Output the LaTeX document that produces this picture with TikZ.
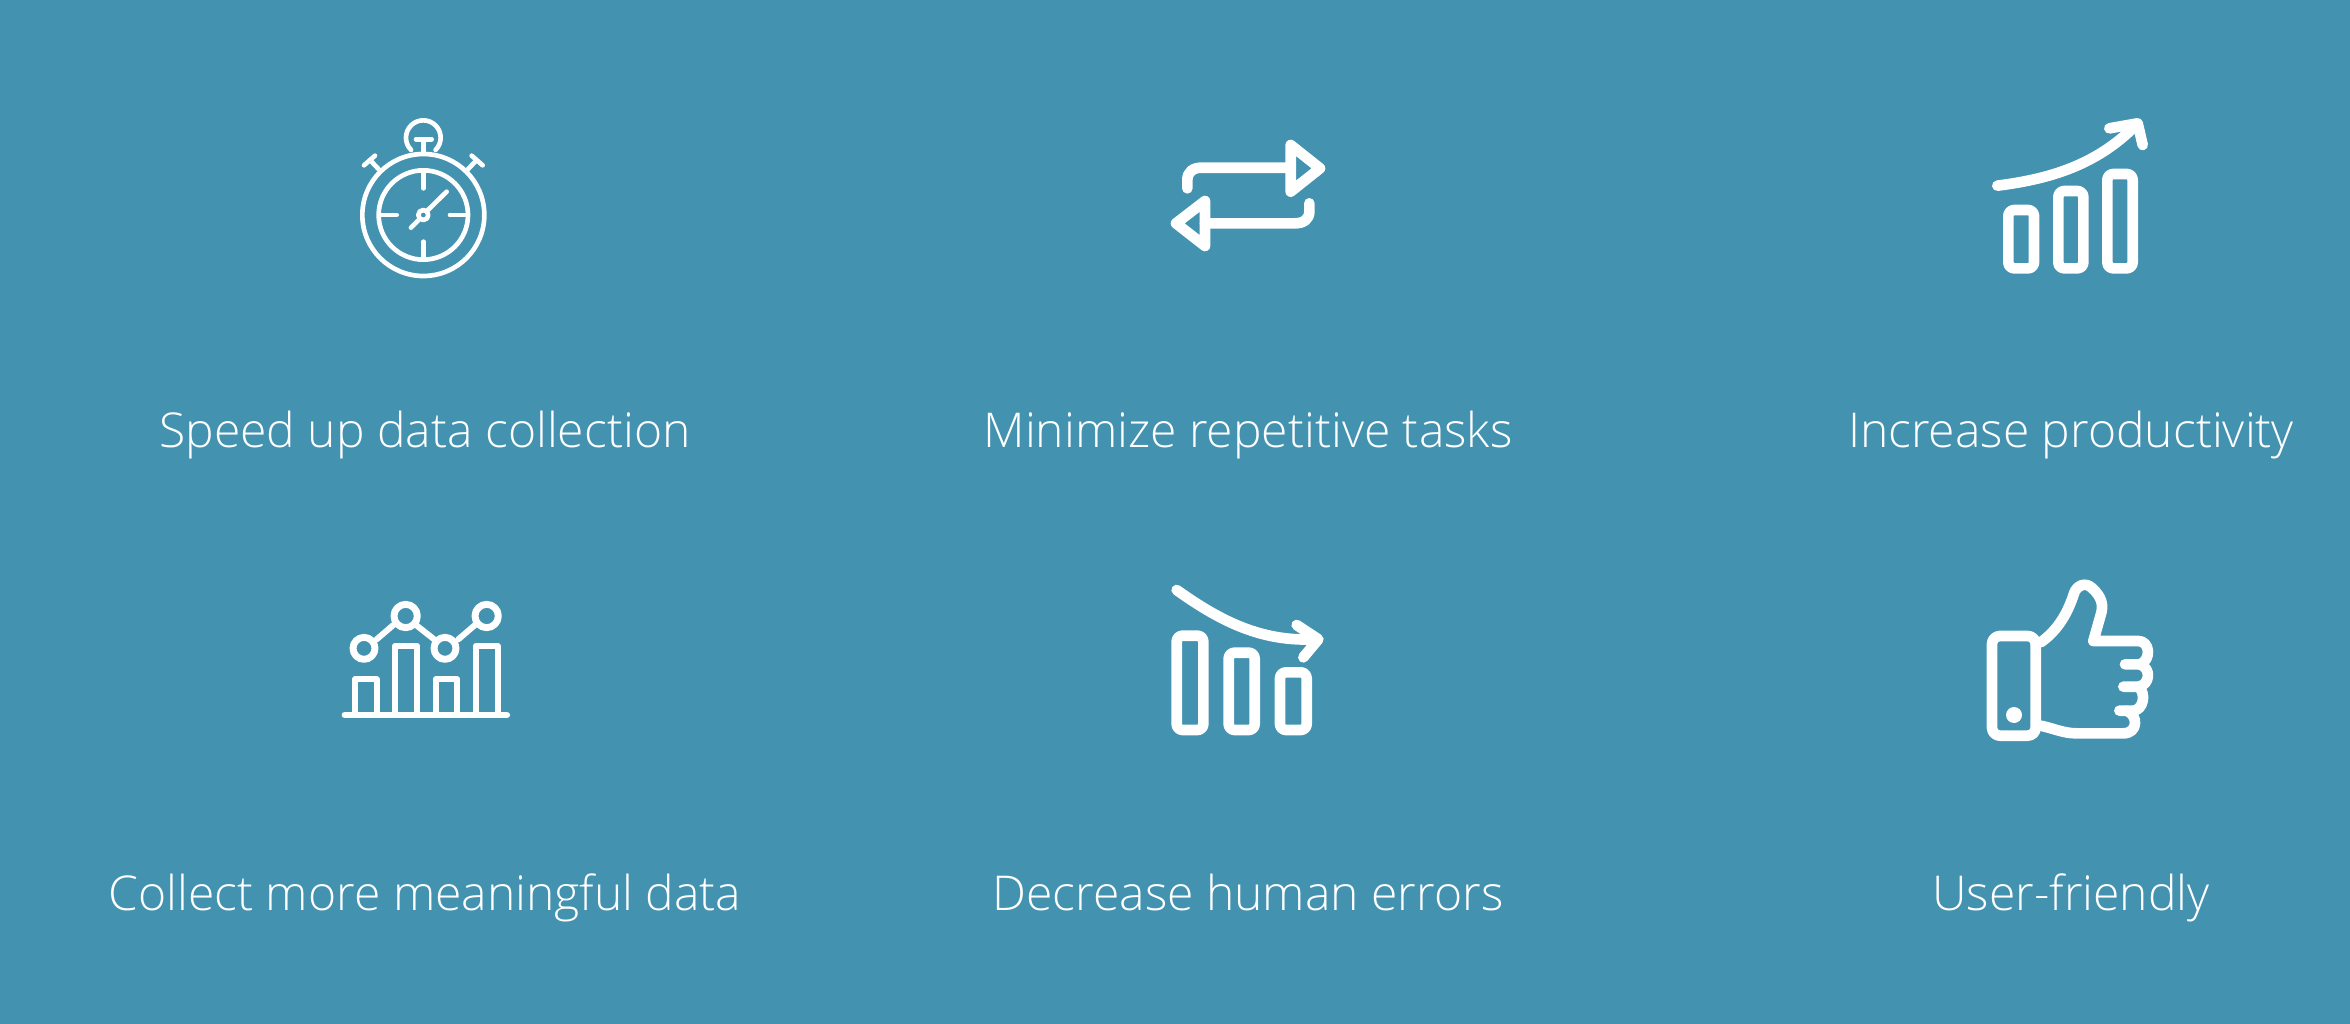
\documentclass[tikz,border=0pt]{standalone}
\usepackage{fontspec}
\setmainfont{Open Sans}[UprightFont={* Light}]
\definecolor{bgteal}{HTML}{4292B0}
\tikzset{
  px/.style={x=0.75pt,y=-0.75pt},
  icon/.style={draw=white,line cap=round,line join=round,fill=none},
  thin icon/.style={icon,line width=3.5pt},
  chart icon/.style={icon,line width=4.5pt},
  mid icon/.style={icon,line width=5.2pt},
  bold icon/.style={icon,line width=8pt},
  bar/.style={bold icon,rounded corners=4.5pt},
  caption/.style={anchor=base,text=white,font=\fontsize{36pt}{40pt}\selectfont,inner sep=0pt},
}
\begin{document}
\begin{tikzpicture}[px]
\fill[bgteal] (0,0) rectangle (2350,1024);
\useasboundingbox (0,0) rectangle (2350,1024);
\node[caption] (t1) at (425,447) {Speed up data collection};
\node[caption] (t2) at (1248,447) {Minimize repetitive tasks};
\node[caption] (t3) at (2071,447) {Increase productivity};
\node[caption] (t4) at (425,910) {Collect more meaningful data};
\node[caption] (t5) at (1248,910) {Decrease human errors};
\node[caption] (t6) at (2071,910) {User-friendly};
% stopwatch
\begin{scope}[shift={(330,100)},x=0.25pt,y=-0.25pt]
\draw[thin icon] (280,345) circle[radius=183];
\draw[thin icon] (280,345) circle[radius=134];
\draw[thin icon] (243.2,149.8) arc[start angle=135,end angle=405,radius=52];
\draw[thin icon] (258,118) -- (305,118) (280,118) -- (280,155);
\draw[thin icon] (150,212) -- (120,180) (102,196) -- (135,167);
\draw[thin icon] (410,212) -- (440,180) (425,167) -- (458,196);
\draw[thin icon] (280,215) -- (280,265) (280,425) -- (280,475) (150,345) -- (200,345) (360,345) -- (410,345);
\draw[thin icon] (280,345) circle[radius=15];
\draw[thin icon] (243,383) -- (268,358) (292,332) -- (350,275);
\end{scope}
% exchange arrows
\begin{scope}[shift={(1150,120)},x=0.25pt,y=-0.25pt]
\draw[bold icon] (112,205) -- (112,180) .. controls (112,155) and (130,143) .. (155,143) -- (422,143);
\draw[bold icon] (422,75) -- (510,145) -- (422,215) -- cycle;
\draw[bold icon] (478,250) -- (478,275) .. controls (478,298) and (460,310) .. (435,310) -- (165,310);
\draw[bold icon] (165,243) -- (78,310) -- (165,378) -- cycle;
\end{scope}
% growth
\begin{scope}[shift={(1970,100)},x=0.25pt,y=-0.25pt]
\draw[bar] (115,330) rectangle (192,505);
\draw[bar] (265,273) rectangle (340,505);
\draw[bar] (412,222) rectangle (488,505);
\draw[bold icon] (82,257) .. controls (240,237) and (380,195) .. (498,75);
\draw[bold icon] (418,85) -- (503,70) -- (518,135);
\end{scope}
% chart
\begin{scope}[shift={(330,580)},x=0.25pt,y=-0.25pt]
\draw[mid icon] (45,405) -- (530,405);
\draw[chart icon] (75,400) |- (140,298) -- (140,400);
\draw[chart icon] (195,400) |- (262,198) -- (262,400);
\draw[chart icon] (317,400) |- (382,298) -- (382,400);
\draw[chart icon] (437,400) |- (503,198) -- (503,400);
\draw[mid icon,fill=bgteal] (102,205) circle[radius=33];
\draw[mid icon,fill=bgteal] (227,108) circle[radius=35];
\draw[mid icon,fill=bgteal] (345,205) circle[radius=33];
\draw[mid icon,fill=bgteal] (470,108) circle[radius=35];
\draw[chart icon] (140,178) -- (190,135) (258,135) -- (315,180) (385,178) -- (435,135);
\end{scope}
% decline
\begin{scope}[shift={(1150,570)},x=0.25pt,y=-0.25pt]
\draw[bar] (80,197) rectangle (160,480);
\draw[bar] (236,248) rectangle (314,480);
\draw[bar] (390,307) rectangle (470,480);
\draw[bold icon] (80,60) .. controls (220,160) and (340,215) .. (495,208);
\draw[bold icon] (440,165) -- (505,208) -- (460,262);
\end{scope}
% thumb
\begin{scope}[shift={(1970,565)},x=0.25pt,y=-0.25pt]
\draw[bar,rounded corners=6pt] (66,213) rectangle (197,512);
\fill[white] (132,450) circle[radius=24];
\draw[bold icon] (212,232) .. controls (265,195) and (295,140) .. (312,85)
  .. controls (320,62) and (345,50) .. (365,68)
  .. controls (395,95) and (402,120) .. (392,150)
  -- (370,228) -- (505,228)
  .. controls (540,228) and (545,285) .. (510,298) -- (465,298);
\draw[bold icon] (510,298) .. controls (545,310) and (540,360) .. (505,365) -- (460,365);
\draw[bold icon] (505,365) .. controls (530,385) and (520,435) .. (490,437) -- (448,437);
\draw[bold icon] (470,437) .. controls (505,450) and (505,505) .. (460,505)
  -- (320,505) .. controls (280,505) and (250,490) .. (212,482);
\end{scope}
\end{tikzpicture}
\end{document}
